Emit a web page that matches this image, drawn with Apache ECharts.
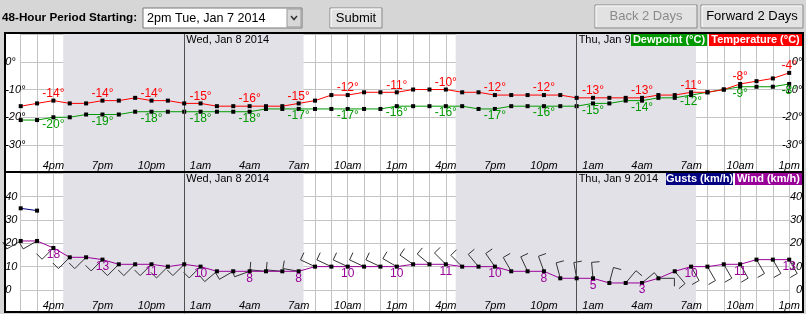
<!DOCTYPE html>
<html><head><meta charset="utf-8">
<script src="https://cdn.jsdelivr.net/npm/echarts@6/dist/echarts.min.js"></script>
<style>html,body{margin:0;padding:0;background:#d6d6d6;}#c{width:806px;height:314px;}</style>
</head><body><div id="c"></div>
<script>
const hours = ['2pm','3pm','4pm','5pm','6pm','7pm','8pm','9pm','10pm','11pm','12am','1am','2am','3am','4am','5am','6am','7am','8am','9am','10am','11am','12pm','1pm','2pm','3pm','4pm','5pm','6pm','7pm','8pm','9pm','10pm','11pm','12am','1am','2am','3am','4am','5am','6am','7am','8am','9am','10am','11am','12pm','1pm'];
const temperature = [-16,-15,-14,-15,-15,-14,-14,-13,-14,-14,-15,-15,-16,-16,-16,-16,-16,-15,-14,-12,-12,-11,-11,-11,-10,-10,-10,-11,-11,-12,-12,-12,-12,-12,-13,-13,-13,-13,-13,-12,-12,-11,-11,-10,-8,-7,-6,-4];
const dewpoint = [-21,-21,-20,-20,-19,-19,-19,-18,-18,-18,-18,-18,-18,-18,-18,-17,-17,-17,-17,-17,-17,-17,-17,-16,-16,-16,-16,-16,-17,-17,-16,-16,-16,-16,-16,-15,-15,-14,-14,-13,-13,-12,-11,-10,-9,-9,-9,-8];
const wind = [21,21,18,14,14,13,11,11,11,10,11,10,8,8,8,8,8,8,10,10,10,10,10,10,11,11,11,10,10,10,8,8,8,5,5,5,3,3,3,5,8,10,10,11,11,13,13,13];
const gusts = [35,34];
const windDir = [240,240,225,225,225,225,225,225,225,225,225,225,230,240,250,275,275,280,295,295,295,295,295,300,305,310,315,315,320,325,330,335,340,345,350,355,15,40,50,90,140,150,150,150,150,150,150,150];
const midnights = [10,34];
const nights = [[2.6,17.3],[26.6,41.3]];
const dateLabels = ['Wed, Jan 8 2014','Thu, Jan 9 2014'];

const FONT = '"Liberation Sans", Arial, sans-serif';
const chart = echarts.init(document.getElementById('c'), null, {renderer:'canvas'});
const GL = 20.7, GR = 806 - 789.2;

function xAxis(gi){
  return {gridIndex:gi, type:'value', min:0, max:47, interval:1, z:1,
    axisLine:{show:false}, axisTick:{show:false},
    splitLine:{show:true, lineStyle:{color:'#c4c4c4', width:1}},
    axisLabel:{inside:true, margin:gi===0?1:2, fontSize:11, fontStyle:'italic', color:'#000', fontFamily:FONT,
      formatter: v => (v % 3 === 2 ? hours[v] : '')}};
}
function yAxis(gi, pos, min, max, deg){
  return {gridIndex:gi, type:'value', position:pos, min:min, max:max, interval:10, z:1,
    axisLine:{show:false}, axisTick:{show:false},
    splitLine:{show:pos==='left', lineStyle:{color:'#c4c4c4', width:1}},
    axisLabel:{fontSize:11, fontStyle:'italic', color:'#000', fontFamily:FONT,
      align: pos==='left' ? 'left' : 'right', margin: pos==='left' ? 15.5 : 13,
      formatter: v => (v === max || v === min) ? '' : v + deg}};
}
const nightArea = {silent:true, itemStyle:{color:'#e3e1e8'}, data: nights.map(n => [{xAxis:n[0]},{xAxis:n[1]}])};
const midLine = {silent:true, symbol:['none','none'], label:{show:false}, lineStyle:{color:'#505050', type:'solid', width:1},
  data: midnights.map(m => ({xAxis:m}))};
const mk = {symbol:'rect', symbolSize:4, itemStyle:{color:'#000'}};

const option = {
  backgroundColor:'#d6d6d6',
  animation:false,
  grid:[{left:GL, right:GR, top:34, height:138.8}, {left:GL, right:GR, top:173.3, height:140}],
  xAxis:[xAxis(0), xAxis(1)],
  yAxis:[yAxis(0,'left',-40,10,'°'), yAxis(0,'right',-40,10,'°'), yAxis(1,'left',-10,50,''), yAxis(1,'right',-10,50,'')],
  series:[
    {type:'line', name:'night0', xAxisIndex:0, yAxisIndex:0, data:[], z:0, markArea: nightArea},
    {type:'line', name:'night1', xAxisIndex:1, yAxisIndex:2, data:[], z:0, markArea: nightArea},
    {type:'line', name:'Temperature (°C)', xAxisIndex:0, yAxisIndex:0, data: temperature.map((v,i)=>[i,v]), ...mk,
      lineStyle:{color:'#ff0000', width:1}, z:5,
      label:{show:true, position:'top', distance:-1, color:'#ff0000', fontSize:12, fontFamily:FONT,
        formatter:p => p.dataIndex % 3 === 2 ? temperature[p.dataIndex] + '°' : ''},
      markLine: midLine},
    {type:'line', name:'Dewpoint (°C)', xAxisIndex:0, yAxisIndex:0, data: dewpoint.map((v,i)=>[i,v]), ...mk,
      lineStyle:{color:'#009900', width:1}, z:4,
      label:{show:true, position:'bottom', distance:-1, color:'#009900', fontSize:12, fontFamily:FONT,
        formatter:p => p.dataIndex % 3 === 2 ? dewpoint[p.dataIndex] + '°' : ''}},
    {type:'custom', name:'barbs', xAxisIndex:1, yAxisIndex:2, z:3, silent:true,
      data: wind.map((v,i)=>[i,v,windDir[i]]),
      renderItem:(params, api) => {
        const p = api.coord([api.value(0), api.value(1)]);
        const d = api.value(2) * Math.PI / 180;
        const sx = Math.sin(d), sy = -Math.cos(d);
        const L = 16, B = 8;
        const e = [p[0] + sx*L, p[1] + sy*L];
        const b = [e[0] - sy*B, e[1] + sx*B];
        return {type:'polyline', shape:{points:[p, e, b]}, style:{stroke:'#333', fill:null, lineWidth:1}};
      },
      markLine: midLine},
    {type:'line', name:'Gusts (km/h)', xAxisIndex:1, yAxisIndex:2, data: gusts.map((v,i)=>[i,v]), ...mk,
      lineStyle:{color:'#000080', width:1}, z:5},
    {type:'line', name:'Wind (km/h)', xAxisIndex:1, yAxisIndex:2, data: wind.map((v,i)=>[i,v]), ...mk,
      lineStyle:{color:'#990099', width:1}, z:6,
      label:{show:true, position:'bottom', distance:-1, color:'#990099', fontSize:12, fontFamily:FONT,
        formatter:p => p.dataIndex % 3 === 2 ? String(wind[p.dataIndex]) : ''}}
  ]
};
chart.setOption(option);

function btn(x, y, w, h, text, color){
  return [
    {type:'rect', shape:{x:x, y:y, width:w, height:h}, style:{fill:'#e2e2e2', stroke:'#888', lineWidth:1}},
    {type:'polyline', shape:{points:[[x+1,y+h-1],[x+1,y+1],[x+w-1,y+1]]}, style:{stroke:'#fff', fill:null, lineWidth:1}},
    {type:'text', x:x+w/2, y:y+h/2, style:{text:text, fill:color, font:'13px ' + FONT, textAlign:'center', textVerticalAlign:'middle'}}
  ];
}
const dx = midnights.map(m => chart.convertToPixel({xAxisIndex:0}, m));
const els = [
  {type:'rect', z:-10, shape:{x:5, y:33, width:798, height:279}, style:{fill:'#fff'}},
  {type:'text', x:2, y:18, style:{text:'48-Hour Period Starting:', font:'bold 11.7px ' + FONT, fill:'#000', textVerticalAlign:'middle'}},
  {type:'rect', shape:{x:143, y:8, width:159, height:20}, style:{fill:'#fff', stroke:'#777', lineWidth:1}},
  {type:'text', x:147, y:18.5, style:{text:'2pm Tue, Jan 7 2014', font:'12.6px ' + FONT, fill:'#000', textVerticalAlign:'middle'}},
  {type:'rect', shape:{x:287, y:9, width:14, height:18}, style:{fill:'#d8d8d8', stroke:'#999', lineWidth:1}},
  {type:'polyline', shape:{points:[[291,16],[294,19.5],[297,16]]}, style:{stroke:'#333', fill:null, lineWidth:1.5}},
  ...btn(330, 8, 52, 20, 'Submit', '#000'),
  ...btn(595, 5, 102, 23, 'Back 2 Days', '#8a8a8a'),
  ...btn(701, 5, 102, 23, 'Forward 2 Days', '#000'),
  {type:'text', x:dx[0]+2, y:40, z:20, style:{text:dateLabels[0], font:'11px ' + FONT, fill:'#000', textVerticalAlign:'middle'}},
  {type:'text', x:dx[1]+2, y:40, z:20, style:{text:dateLabels[1], font:'11px ' + FONT, fill:'#000', textVerticalAlign:'middle'}},
  {type:'text', x:dx[0]+2, y:178.5, z:20, style:{text:dateLabels[0], font:'11px ' + FONT, fill:'#000', textVerticalAlign:'middle'}},
  {type:'text', x:dx[1]+2, y:178.5, z:20, style:{text:dateLabels[1], font:'11px ' + FONT, fill:'#000', textVerticalAlign:'middle'}},
  {type:'rect', z:21, shape:{x:631, y:33, width:76, height:13}, style:{fill:'#009900'}},
  {type:'text', z:22, x:669, y:39.5, style:{text:'Dewpoint (°C)', font:'bold 11px ' + FONT, fill:'#fff', textAlign:'center', textVerticalAlign:'middle'}},
  {type:'rect', z:21, shape:{x:709, y:33, width:93, height:13}, style:{fill:'#ff0000'}},
  {type:'text', z:22, x:755.5, y:39.5, style:{text:'Temperature (°C)', font:'bold 11px ' + FONT, fill:'#fff', textAlign:'center', textVerticalAlign:'middle'}},
  {type:'rect', z:21, shape:{x:666, y:172, width:67, height:13}, style:{fill:'#000080'}},
  {type:'text', z:22, x:699.5, y:178.5, style:{text:'Gusts (km/h)', font:'bold 11px ' + FONT, fill:'#fff', textAlign:'center', textVerticalAlign:'middle'}},
  {type:'rect', z:21, shape:{x:735, y:172, width:67, height:13}, style:{fill:'#990099'}},
  {type:'text', z:22, x:768.5, y:178.5, style:{text:'Wind (km/h)', font:'bold 11px ' + FONT, fill:'#fff', textAlign:'center', textVerticalAlign:'middle'}},
  {type:'rect', z:30, shape:{x:5, y:33, width:798, height:139}, style:{fill:null, stroke:'#000', lineWidth:2}},
  {type:'rect', z:30, shape:{x:5, y:172, width:798, height:140}, style:{fill:null, stroke:'#000', lineWidth:2}}
];
chart.setOption({graphic:{elements:els}});
</script></body></html>
